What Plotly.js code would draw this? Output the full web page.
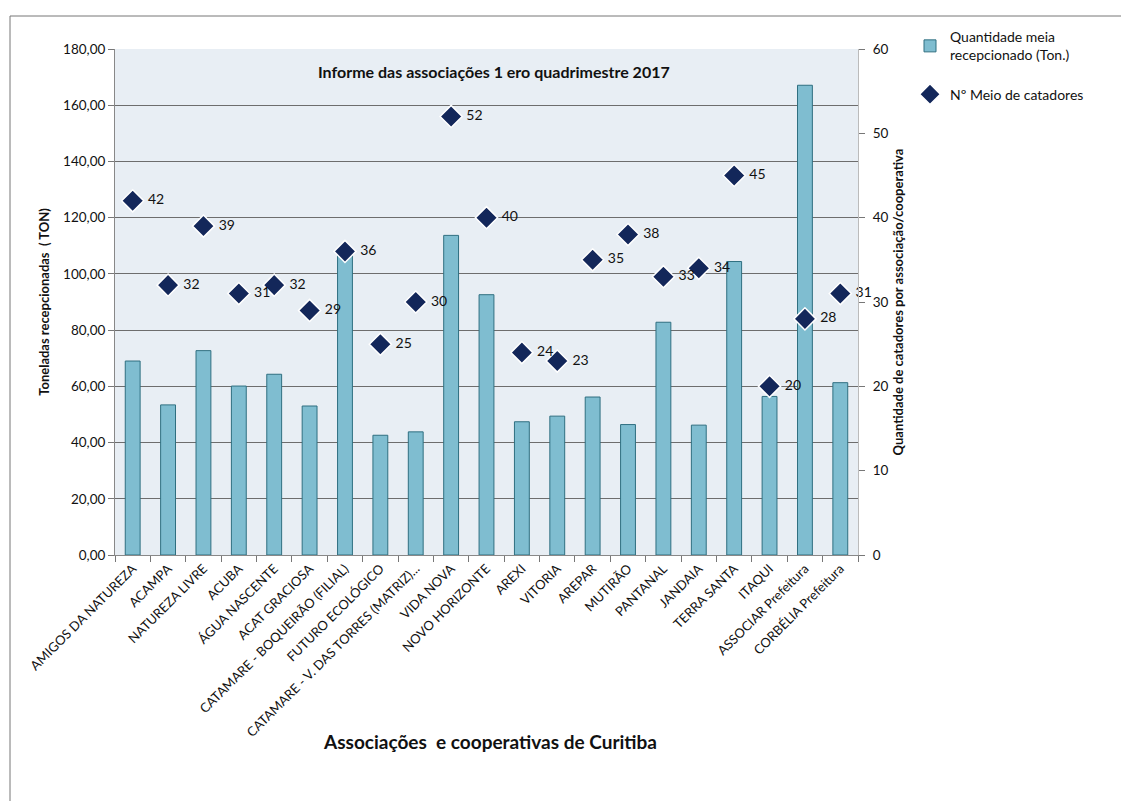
<!DOCTYPE html>
<html>
<head>
<meta charset="utf-8">
<script src="https://cdn.plot.ly/plotly-3.0.1.min.js"></script>
<style>html,body{margin:0;padding:0;background:#fff}</style>
</head>
<body>
<div id="chart" style="width:1121px;height:801px"></div>
<script>
const categories = ["AMIGOS DA NATUREZA","ACAMPA","NATUREZA LIVRE","ACUBA","ÁGUA NASCENTE","ACAT GRACIOSA","CATAMARE - BOQUEIRÃO (FILIAL)","FUTURO ECOLÓGICO","CATAMARE - V. DAS TORRES (MATRIZ)...","VIDA NOVA","NOVO HORIZONTE","AREXI","VITORIA","AREPAR","MUTIRÃO","PANTANAL","JANDAIA","TERRA SANTA","ITAQUI","ASSOCIAR Prefeitura","CORBÉLIA Prefeitura"];
const toneladas = [69.0,53.4,72.7,60.1,64.3,53.0,108.0,42.6,43.8,113.7,92.6,47.4,49.4,56.2,46.4,82.8,46.2,104.4,56.4,167.1,61.3];
const catadores = [42,32,39,31,32,29,36,25,30,52,40,24,23,35,38,33,34,45,20,28,31];
const leftTicks = [0,20,40,60,80,100,120,140,160,180];
const rightTicks = [0,10,20,30,40,50,60];

const font = "Lato, 'Open Sans', sans-serif";

const traces = [
  {
    type: "bar", x: categories, y: toneladas, name: "Quantidade meia<br>recepcionado (Ton.)",
    legendgroup: "a",
    marker: {color: "#7fbdd0", line: {color: "#2f6f80", width: 1}},
    hoverinfo: "x+y"
  },
  {
    type: "scatter", mode: "markers+text", x: categories, y: catadores, yaxis: "y2",
    name: "Nº Meio de catadores", legendgroup: "b",
    marker: {symbol: "diamond", size: 17, color: "#13275a", line: {color: "#ffffff", width: 1.5}},
    text: catadores.map(v => " " + v), textposition: "middle right",
    textfont: {family: font, size: 14, color: "#111"},
    cliponaxis: false
  }
];

const layout = {
  width: 1121, height: 801,
  margin: {l: 115, r: 263, t: 49, b: 246},
  paper_bgcolor: "#ffffff",
  plot_bgcolor: "#e8eef4",
  separators: ",.",
  font: {family: font, size: 13, color: "#111"},
  bargap: 0.58,
  showlegend: true,
  legend: {x: 1.07, y: 1.055, xanchor: "left", yanchor: "top", font: {family: font, size: 14, color: "#111"},
           bgcolor: "rgba(0,0,0,0)", tracegroupgap: 18, itemwidth: 30},
  xaxis: {
    type: "category", range: [-0.5, 20.5], tickangle: -45, tickfont: {family: font, size: 13, color: "#111"},
    ticks: "outside", ticklen: 6, tickcolor: "#777", tickson: "boundaries",
    showline: true, linecolor: "#888", linewidth: 1, showgrid: false,
    automargin: false
  },
  yaxis: {
    range: [0, 180], tickvals: leftTicks, tickformat: ".2f",
    showgrid: true, gridcolor: "#6d6d6d", gridwidth: 1,
    ticks: "outside", ticklen: 6, tickcolor: "#777",
    showline: true, linecolor: "#888", zeroline: false,
    tickfont: {family: font, size: 13.5, color: "#111"},
    title: {text: "<b>Toneladas recepcionadas  ( TON)</b>", font: {family: font, size: 13, color: "#111"}, standoff: 10},
    automargin: false
  },
  yaxis2: {
    range: [0, 60], tickvals: rightTicks, overlaying: "y", side: "right",
    showgrid: false, ticks: "outside", ticklen: 6, tickcolor: "#777",
    showline: true, linecolor: "#bbb", zeroline: false, ticklabelstandoff: 5,
    tickfont: {family: font, size: 13.5, color: "#111"},
    title: {text: "<b>Quantidade de catadores por associação/cooperativa</b>", font: {family: font, size: 13, color: "#111"}, standoff: 6},
    automargin: false
  },
  annotations: [
    {text: "<b>Informe das associações 1 ero quadrimestre 2017</b>", xref: "paper", yref: "paper",
     x: 0.51, y: 0.955, xanchor: "center", yanchor: "middle", showarrow: false,
     font: {family: font, size: 16, color: "#111"}},
    {text: "<b>Associações  e cooperativas de Curitiba</b>", xref: "paper", yref: "paper",
     x: 0.505, y: -0.3676, xanchor: "center", yanchor: "middle", showarrow: false,
     font: {family: font, size: 19, color: "#111"}}
  ],
  shapes: [
    {type: "line", xref: "paper", yref: "paper", x0: -0.1413, x1: 1.36, y0: 1.0652, y1: 1.0652,
     line: {color: "#777", width: 1}},
    {type: "line", xref: "paper", yref: "paper", x0: -0.1413, x1: -0.1413, y0: 1.0652, y1: -0.49,
     line: {color: "#777", width: 1}}
  ]
};

Plotly.newPlot("chart", traces, layout, {displayModeBar: false, staticPlot: true});
</script>
</body>
</html>
